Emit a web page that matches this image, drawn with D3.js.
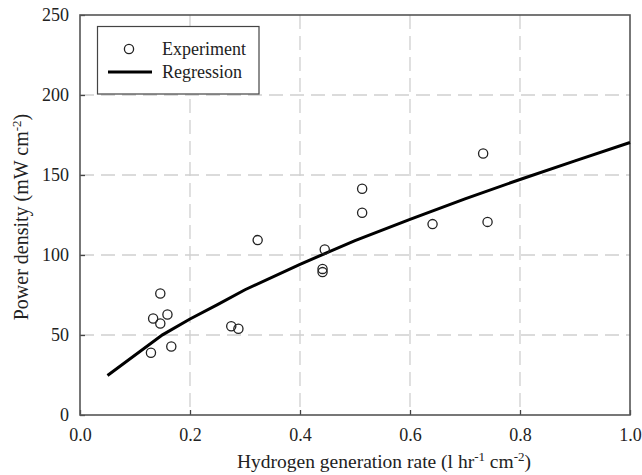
<!DOCTYPE html>
<html>
<head>
<meta charset="utf-8">
<script src="https://cdn.jsdelivr.net/npm/d3@7"></script>
<style>
  body { margin: 0; background: #fff; }
  svg text { font-family: "Liberation Serif", "Times New Roman", "DejaVu Serif", serif; fill: #222; }
</style>
</head>
<body>
<svg id="chart" width="642" height="475"></svg>
<script>
// experiment points
const expRate = [0.129, 0.133, 0.146, 0.146, 0.159, 0.166, 0.275, 0.288, 0.323, 0.441, 0.441, 0.445, 0.513, 0.513, 0.641, 0.733, 0.741];
const expPower = [38.9, 60.3, 57.2, 75.9, 62.8, 42.8, 55.5, 53.9, 109.3, 91.3, 89.3, 103.4, 141.4, 126.4, 119.3, 163.4, 120.7];

// regression curve
const regRate = [0.05, 0.15, 0.2, 0.25, 0.3, 0.4, 0.5, 0.6, 0.7, 0.8, 0.9, 1.0];
const regPower = [24.7, 50.1, 60.0, 69.0, 78.3, 94.2, 109, 122.3, 135.1, 147.2, 158.8, 170.3];

const xTicks = [0, 0.2, 0.4, 0.6, 0.8, 1.0];
const yTicks = [0, 50, 100, 150, 200, 250];

const FONT = "'Liberation Serif', 'Times New Roman', 'DejaVu Serif', serif";

const margin = { top: 15, right: 12, bottom: 60, left: 80 };
const width = 642 - margin.left - margin.right;
const height = 475 - margin.top - margin.bottom;

const svg = d3.select("#chart");
const g = svg.append("g").attr("transform", `translate(${margin.left},${margin.top})`);

const x = d3.scaleLinear().domain([0, 1]).range([0, width]);
const y = d3.scaleLinear().domain([0, 250]).range([height, 0]);

// dashed grid
g.append("g").selectAll("line").data(xTicks.slice(1, -1)).enter().append("line")
    .attr("x1", d => x(d)).attr("x2", d => x(d))
    .attr("y1", 0).attr("y2", height)
    .attr("stroke", "#cfcfcf").attr("stroke-width", 1.3).attr("stroke-dasharray", "14,7");
g.append("g").selectAll("line").data(yTicks.slice(1, -1)).enter().append("line")
    .attr("y1", d => y(d)).attr("y2", d => y(d))
    .attr("x1", 0).attr("x2", width)
    .attr("stroke", "#cfcfcf").attr("stroke-width", 1.3).attr("stroke-dasharray", "14,7");

// axes with inward ticks
const xAxis = g.append("g").attr("transform", `translate(0,${height})`)
    .call(d3.axisBottom(x).tickValues(xTicks).tickFormat(d3.format(".1f")).tickSizeInner(-5).tickSizeOuter(0).tickPadding(13));
const yAxis = g.append("g")
    .call(d3.axisLeft(y).tickValues(yTicks).tickSizeInner(-5).tickSizeOuter(0).tickPadding(11));
[xAxis, yAxis].forEach(a => {
    a.attr("font-family", null);
    a.select(".domain").remove();
    a.selectAll("line").attr("stroke", "#444").attr("stroke-width", 1.3);
    a.selectAll("text").style("font-family", FONT).style("font-size", "18px").attr("fill", "#222");
});

// frame
g.append("rect").attr("x", 0).attr("y", 0).attr("width", width).attr("height", height)
    .attr("fill", "none").attr("stroke", "#555").attr("stroke-width", 1.6);

// regression line
const line = d3.line().x(d => x(d[0])).y(d => y(d[1]));
g.append("path").datum(regRate.map((r, i) => [r, regPower[i]]))
    .attr("d", line).attr("fill", "none").attr("stroke", "#000").attr("stroke-width", 3);

// experiment circles
g.append("g").selectAll("circle").data(expRate.map((r, i) => [r, expPower[i]])).enter().append("circle")
    .attr("cx", d => x(d[0])).attr("cy", d => y(d[1])).attr("r", 4.6)
    .attr("fill", "none").attr("stroke", "#222").attr("stroke-width", 1.3);

// legend
const lg = svg.append("g");
lg.append("rect").attr("x", 97.5).attr("y", 26.5).attr("width", 161.5).attr("height", 67.5)
    .attr("fill", "#fff").attr("stroke", "#444").attr("stroke-width", 1.2);
lg.append("circle").attr("cx", 129).attr("cy", 49).attr("r", 4.6)
    .attr("fill", "none").attr("stroke", "#222").attr("stroke-width", 1.3);
lg.append("line").attr("x1", 108).attr("x2", 152).attr("y1", 72).attr("y2", 72)
    .attr("stroke", "#000").attr("stroke-width", 3);
lg.append("text").attr("x", 162).attr("y", 55).style("font-size", "18px").text("Experiment");
lg.append("text").attr("x", 162).attr("y", 78).style("font-size", "18px").text("Regression");

// axis titles
const xt = svg.append("text").attr("x", 384).attr("y", 468)
    .attr("text-anchor", "middle").style("font-size", "19.5px");
xt.append("tspan").text("Hydrogen generation rate (l hr");
xt.append("tspan").attr("dy", -7).style("font-size", "13px").text("-1");
xt.append("tspan").attr("dy", 7).text(" cm");
xt.append("tspan").attr("dy", -7).style("font-size", "13px").text("-2");
xt.append("tspan").attr("dy", 7).text(")");

const yt = svg.append("text").attr("transform", `translate(28,217) rotate(-90)`)
    .attr("text-anchor", "middle").style("font-size", "20px");
yt.append("tspan").text("Power density (mW cm");
yt.append("tspan").attr("dy", -7).style("font-size", "13px").text("-2");
yt.append("tspan").attr("dy", 7).text(")");
</script>
</body>
</html>
